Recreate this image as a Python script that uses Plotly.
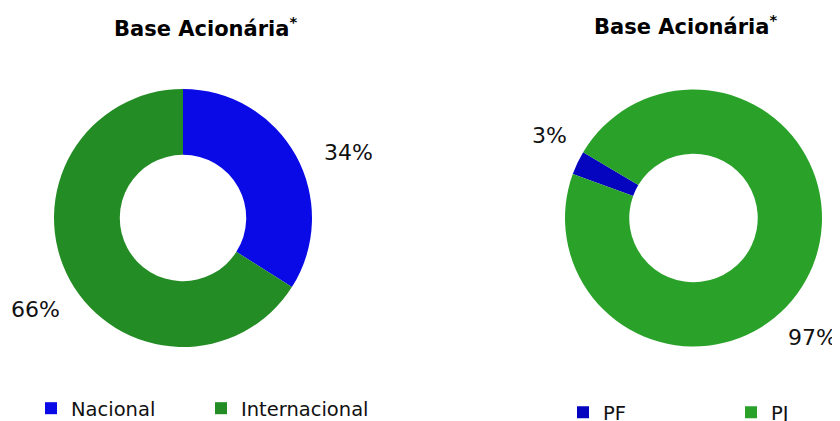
import plotly.graph_objects as go

# ---- data ----
title_text = "<b>Base Acionária<sup>*</sup></b>"

left_labels = ["Nacional", "Internacional"]
left_values = [34, 66]
left_colors = ["#0a0ae6", "#248c24"]

right_labels = ["PF", "PJ"]
right_values = [3, 97]
right_colors = ["#0505c0", "#2aa22a"]

FONT = "DejaVu Sans"

# page body has an 8px margin: work in figure pixels = reference pixels - 8
W, H = 832, 413
OFF = 8


def px(x):
    return (x - OFF) / W


def py(y):
    return 1 - (y - OFF) / H


fig = go.Figure()
fig.add_trace(go.Pie(
    labels=left_labels, values=left_values, hole=0.49, sort=False,
    direction="clockwise", rotation=0,
    marker=dict(colors=left_colors, line=dict(width=0)),
    textinfo="none",
    domain=dict(x=[px(53), px(313)], y=[py(347), py(89)]),
    legend="legend", showlegend=True,
))
fig.add_trace(go.Pie(
    labels=right_labels, values=right_values, hole=0.5, sort=False,
    direction="clockwise", rotation=290,
    marker=dict(colors=right_colors, line=dict(width=0)),
    textinfo="none",
    domain=dict(x=[px(565), px(822)], y=[py(347), py(89)]),
    legend="legend2", showlegend=True,
))

# percentage labels (text from the data values)
label_pos = {"left": [(348, 152), (35, 309)], "right": [(549, 135), (812, 337)]}
annotations = []
for vals, pos in ((left_values, label_pos["left"]), (right_values, label_pos["right"])):
    tot = sum(vals)
    for v, (x, y) in zip(vals, pos):
        annotations.append(dict(
            text=f"{round(100 * v / tot)}%", x=px(x), y=py(y), xref="paper", yref="paper",
            showarrow=False, xanchor="center", yanchor="middle",
            font=dict(family=FONT, size=22, color="#111")))

for x, y in ((205, 27), (685, 25)):
    annotations.append(dict(
        text=title_text, x=px(x), y=py(y), xref="paper", yref="paper",
        showarrow=False, xanchor="center", yanchor="middle",
        font=dict(family=FONT, size=21, color="#000")))

fig.update_layout(
    width=W, height=H,
    margin=dict(l=0, r=0, t=0, b=0, autoexpand=False),
    paper_bgcolor="white", plot_bgcolor="white",
    font=dict(family=FONT, color="#111"),
    legend=dict(orientation="h", x=px(31), y=-0.017, xanchor="left", yanchor="bottom",
                font=dict(family=FONT, size=19.5, color="#111"), entrywidth=125,
                entrywidthmode="pixels", itemwidth=30, traceorder="normal"),
    legend2=dict(orientation="h", x=px(563), y=-0.027, xanchor="left", yanchor="bottom",
                 font=dict(family=FONT, size=19.5, color="#111"), entrywidth=123,
                 entrywidthmode="pixels", itemwidth=30, traceorder="normal"),
    annotations=annotations,
)

fig.write_html("out.html")
